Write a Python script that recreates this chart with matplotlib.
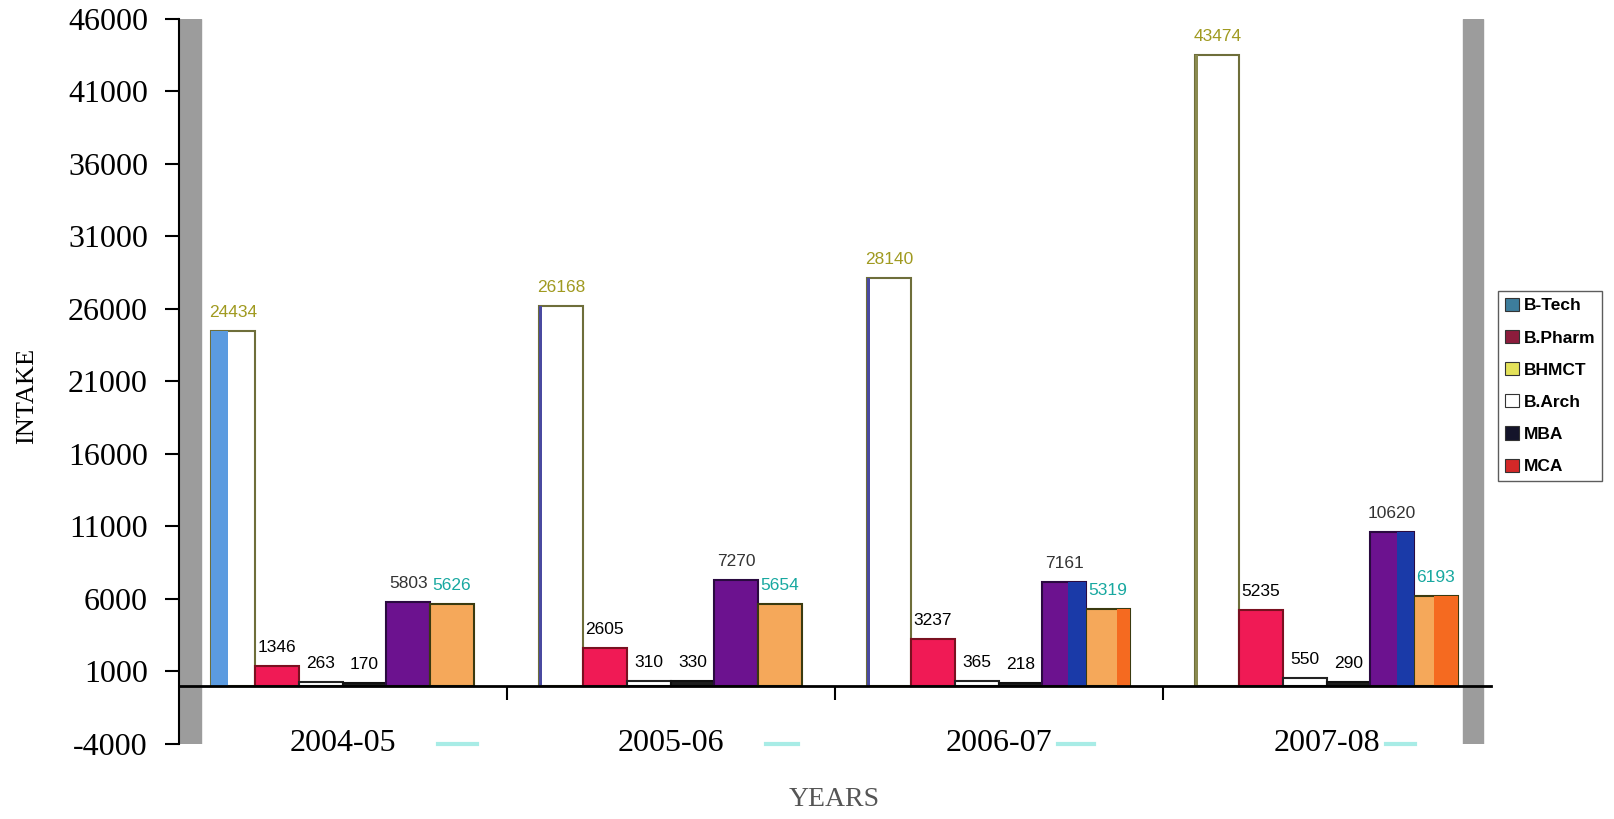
import matplotlib
matplotlib.use('Agg')
import matplotlib.pyplot as plt
import numpy as np
from matplotlib.patches import Patch

# Intake data per academic year
years = ['2004-05', '2005-06', '2006-07', '2007-08']
courses = ['B-Tech', 'B.Pharm', 'BHMCT', 'B.Arch', 'MBA', 'MCA']
btech = [24434, 26168, 28140, 43474]
bpharm = [1346, 2605, 3237, 5235]
bhmct = [263, 310, 365, 550]
barch = [170, 330, 218, 290]
mba = [5803, 7270, 7161, 10620]
mca = [5626, 5654, 5319, 6193]
yTicks = list(range(-4000, 46001, 5000))

series = [btech, bpharm, bhmct, barch, mba, mca]

# Bar styles (as they look in the scanned chart)
faceColors = ['white', '#f01a55', 'white', '#1e1e1e', '#6c128f', '#f5a85a']
edgeColors = ['#6e6e3a', '#7a1020', '#222222', '#111111', '#2a0a40', '#3a3a10']
labelColors = ['#a09a20', 'black', 'black', 'black', '#333333', '#18a8a0']
# second tone inside some bars: (colour, fraction of width, side)
accents = {
    0: [('#5b9be0', 0.38, 'left'), ('#4a4aa0', 0.06, 'left'),
        ('#4a4aa0', 0.05, 'left'), ('#8a8a50', 0.05, 'left')],
    4: [None, None, ('#1a3aa8', 0.4, 'right'), ('#1a3aa8', 0.4, 'right')],
    5: [None, None, ('#f56a20', 0.3, 'right'), ('#f56a20', 0.55, 'right')],
}
legendColors = ['#3d7d9c', '#8c1c3c', '#e4e25a', 'white', '#14142a', '#d42828']
# faint cyan floor marks to the right of each year label (start, end offsets)
floorMarks = [(0.29, 0.41), (0.29, 0.39), (0.18, 0.29), (0.18, 0.27)]

serif = 'Liberation Serif'
sans = 'Liberation Sans'

fig = plt.figure(figsize=(16.14, 8.19), dpi=100)
ax = fig.add_axes([0.1106, 0.0916, 0.8129, 0.8858])

x = np.arange(len(years))
w = 0.8 / len(courses)

# Side walls of the 3D chart
ax.axvspan(-0.5, -0.43, color='#9c9c9c', zorder=0)
ax.axvspan(3.415, 3.478, color='#9c9c9c', zorder=0)

for i, vals in enumerate(series):
    xs = x + (i - 2.5) * w
    ax.bar(xs, vals, w, color=faceColors[i], edgecolor=edgeColors[i],
           linewidth=1.5, zorder=2)
    if i in accents:
        for j, acc in enumerate(accents[i]):
            if acc is None:
                continue
            col, frac, side = acc
            if side == 'left':
                ax.bar(xs[j] - w / 2, vals[j], w * frac, align='edge',
                       color=col, linewidth=0, zorder=3)
            else:
                ax.bar(xs[j] + w / 2 - w * frac, vals[j], w * frac, align='edge',
                       color=col, linewidth=0, zorder=3)
    for j, v in enumerate(vals):
        ax.annotate(str(v), (xs[j], v), xytext=(0, 8), textcoords='offset points',
                    ha='center', va='bottom', fontsize=12.5, family=sans,
                    color=labelColors[i], zorder=4)

# Axes
ax.set_xlim(-0.5, 3.5)
ax.set_ylim(-4000, 46000)
ax.set_yticks(yTicks)
ax.set_yticklabels([str(t) for t in yTicks], fontsize=23, family=serif)
ax.tick_params(axis='y', direction='out', length=10, width=1.5, pad=12)
ax.spines['top'].set_visible(False)
ax.spines['right'].set_visible(False)
ax.spines['left'].set_linewidth(1.5)
ax.spines['bottom'].set_position(('data', 0))
ax.spines['bottom'].set_linewidth(2)
ax.spines['bottom'].set_zorder(5)
ax.set_xticks([0.5, 1.5, 2.5])
ax.set_xticklabels([])
ax.tick_params(axis='x', direction='out', length=10, width=1.5)

# Category labels and the faint floor marks next to them
for j, yr in enumerate(years):
    ax.text(j, -4000, yr, ha='center', va='center', fontsize=23, family=serif)
    ax.plot([j + floorMarks[j][0], j + floorMarks[j][1]], [-4000, -4000],
            color='#a8ece6', lw=3, clip_on=False, zorder=1)

fig.text(834.5 / 1614, 1 - 800 / 819, 'YEARS', ha='center', va='center',
         fontsize=20, family=serif, color='#555555')
fig.text(27 / 1614, 1 - 396 / 819, 'INTAKE', ha='center', va='center',
         rotation=90, fontsize=19, family=serif)

handles = [Patch(facecolor=c, edgecolor='#333333', linewidth=0.8) for c in legendColors]
leg = fig.legend(handles, courses, loc='upper left', bbox_to_anchor=(0.928, 0.645),
                 prop={'family': sans, 'size': 12.5, 'weight': 'bold'},
                 handlelength=0.8, handleheight=0.8, handletextpad=0.3,
                 labelspacing=0.95, borderpad=0.4, borderaxespad=0,
                 fancybox=False, frameon=True)
leg.get_frame().set_edgecolor('#333333')
leg.get_frame().set_linewidth(1)

fig.savefig('out.png', dpi=100)
